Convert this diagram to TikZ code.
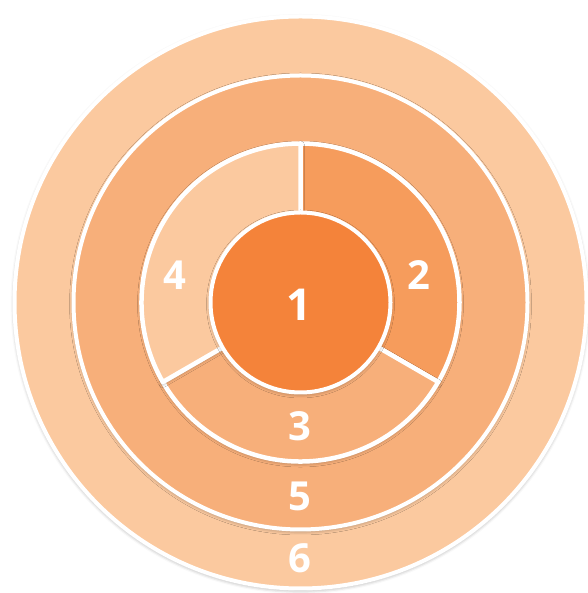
\documentclass[tikz,border=0pt]{standalone}
\usepackage{fontspec}
\setmainfont{Open Sans}
\usetikzlibrary{positioning,calc,shadows.blur}

\definecolor{coreorange}{HTML}{F4833A}
\definecolor{midorange}{HTML}{F69C5C}
\definecolor{softorange}{HTML}{F7AF7A}
\definecolor{paleorange}{HTML}{FBC99F}

\begin{document}
\begin{tikzpicture}[
    x=1pt, y=1pt,
    soft/.style={blur shadow={shadow xshift=0pt, shadow yshift=-1.5pt, shadow blur radius=4pt, shadow opacity=40}},
    ring/.style={circle, draw=white, line width=4pt, inner sep=0pt, soft},
    sector/.style={draw=white, line width=4.5pt, line join=round, soft},
    num/.style={text=white, inner sep=0pt, font=\fontsize{40}{42}\selectfont\bfseries}
  ]
  \useasboundingbox (0,0) rectangle (587,593);
  \coordinate (c) at (300.5,290.5);

  % outer rings
  \node[ring, fill=paleorange, minimum size=572pt] (r6) at (c) {};
  \node[ring, fill=softorange, minimum size=454pt] (r5) at (c) {};

  % three sectors
  \filldraw[sector, fill=midorange] (c) -- ++(90:159) arc[start angle=90, end angle=-30, radius=159] -- cycle;
  \filldraw[sector, fill=softorange] (c) -- ++(-30:159) arc[start angle=-30, end angle=-150, radius=159] -- cycle;
  \filldraw[sector, fill=paleorange] (c) -- ++(210:159) arc[start angle=210, end angle=90, radius=159] -- cycle;

  % core
  \node[ring, fill=coreorange, minimum size=180pt] (r1) at (c) {};

  % labels
  \node[num, font=\fontsize{44}{46}\selectfont\bfseries] (n1) at ($(c)+(-1,-2)$) {1};
  \node[num] (n2) at ($(c)+(118,27)$) {2};
  \node[num] (n3) at ($(c)+(-1,-124)$) {3};
  \node[num] (n4) at ($(c)+(-126,27)$) {4};
  \node[num] (n5) at ($(c)+(-1,-194)$) {5};
  \node[num] (n6) at ($(c)+(-1,-256)$) {6};
\end{tikzpicture}
\end{document}
